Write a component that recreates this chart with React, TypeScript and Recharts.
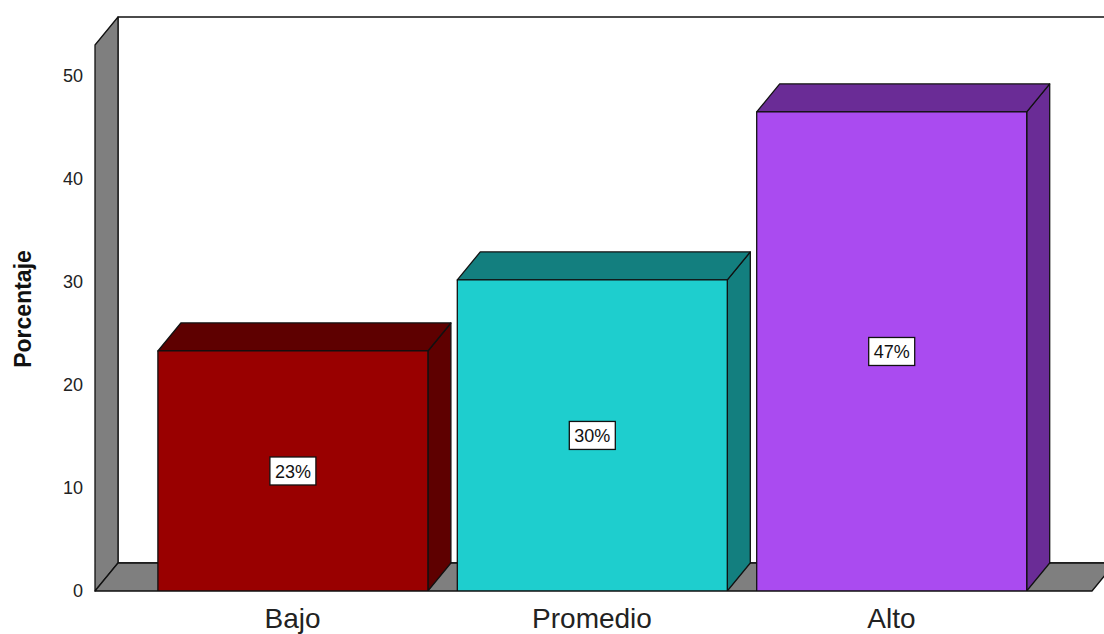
import React from 'react';
import { BarChart, Bar, XAxis, YAxis, ReferenceArea, LabelList, Label } from 'recharts';

// datos
const categories = ['Bajo', 'Promedio', 'Alto'];
const positions = [0, 1, 2];
const percentages = [23.3, 30.2, 46.5];
const barLabels = ['23%', '30%', '47%'];
const yTicks = [0, 10, 20, 30, 40, 50];

const frontColors = ['#990000', '#1ECECE', '#AA4BF0'];
const sideColors = ['#5E0000', '#137F7F', '#6A2C96'];

const data = categories.map((name, i) => ({
  name,
  pos: positions[i],
  value: percentages[i],
  label: barLabels[i],
}));

// profundidad del efecto 3D
const DX = 23;
const DY = 28;
const EDGE = '#111';

const Walls = (props: any) => {
  const { x, y, width, height } = props;
  const b = y + height;
  return (
    <g stroke={EDGE} strokeWidth={1.3} strokeLinejoin="round">
      <rect x={x + DX} y={y - DY} width={width} height={height} fill="#fff" />
      <polygon points={`${x},${b} ${x},${y} ${x + DX},${y - DY} ${x + DX},${b - DY}`} fill="#7F7F7F" />
      <polygon
        points={`${x},${b} ${x + DX},${b - DY} ${x + width + DX},${b - DY} ${x + width},${b}`}
        fill="#7F7F7F"
      />
    </g>
  );
};

const Bar3D = (props: any) => {
  const { x, y, width, height, index } = props;
  const side = sideColors[index];
  const front = frontColors[index];
  const r = x + width;
  const b = y + height;
  return (
    <g stroke={EDGE} strokeWidth={1.3} strokeLinejoin="round">
      <polygon points={`${r},${y} ${r + DX},${y - DY} ${r + DX},${b - DY} ${r},${b}`} fill={side} />
      <polygon points={`${x},${y} ${x + DX},${y - DY} ${r + DX},${y - DY} ${r},${y}`} fill={side} />
      <rect x={x} y={y} width={width} height={height} fill={front} />
    </g>
  );
};

const BoxLabel = (props: any) => {
  const { x, y, width, height, value } = props;
  const cx = x + width / 2;
  const cy = y + height / 2;
  const w = 46;
  const h = 28;
  return (
    <g>
      <rect x={cx - w / 2} y={cy - h / 2} width={w} height={h} fill="#fff" stroke={EDGE} strokeWidth={1.3} />
      <text x={cx} y={cy + 1} textAnchor="middle" dominantBaseline="central" fontSize={18} fill="#111">
        {value}
      </text>
    </g>
  );
};

const YTitle = (props: any) => {
  const { viewBox } = props;
  const cx = 23;
  const cy = viewBox.y + viewBox.height / 2 - 9;
  return (
    <text
      x={cx}
      y={cy}
      transform={`rotate(-90, ${cx}, ${cy})`}
      textAnchor="middle"
      dominantBaseline="central"
      fontSize={23}
      fontWeight="bold"
      fill="#111"
    >
      Porcentaje
    </text>
  );
};

const App = () => {
  return (
    <div style={{ position: 'absolute', left: 0, top: 0, fontFamily: '"Liberation Sans", Arial, sans-serif' }}>
      <BarChart width={1104} height={634} data={data} margin={{ top: 45, right: 12, bottom: 0, left: 0 }}>
        <ReferenceArea y1={0} y2={53} shape={Walls} ifOverflow="visible" />
        <XAxis
          dataKey="pos"
          type="number"
          domain={[-0.66, 2.67]}
          ticks={positions}
          tickFormatter={(v: number) => categories[v]}
          axisLine={false}
          tickLine={false}
          height={43}
          tickMargin={11}
          tick={{ fontSize: 28, fill: '#222' }}
          allowDataOverflow
        />
        <YAxis
          type="number"
          domain={[0, 53]}
          ticks={yTicks}
          width={95}
          axisLine={false}
          tickLine={false}
          tickMargin={6}
          tick={{ fontSize: 18, fill: '#222' }}
          allowDataOverflow
        >
          <Label content={YTitle} />
        </YAxis>
        <Bar dataKey="value" barSize={270} shape={Bar3D} isAnimationActive={false}>
          <LabelList dataKey="label" content={BoxLabel} />
        </Bar>
      </BarChart>
    </div>
  );
};

export default App;
